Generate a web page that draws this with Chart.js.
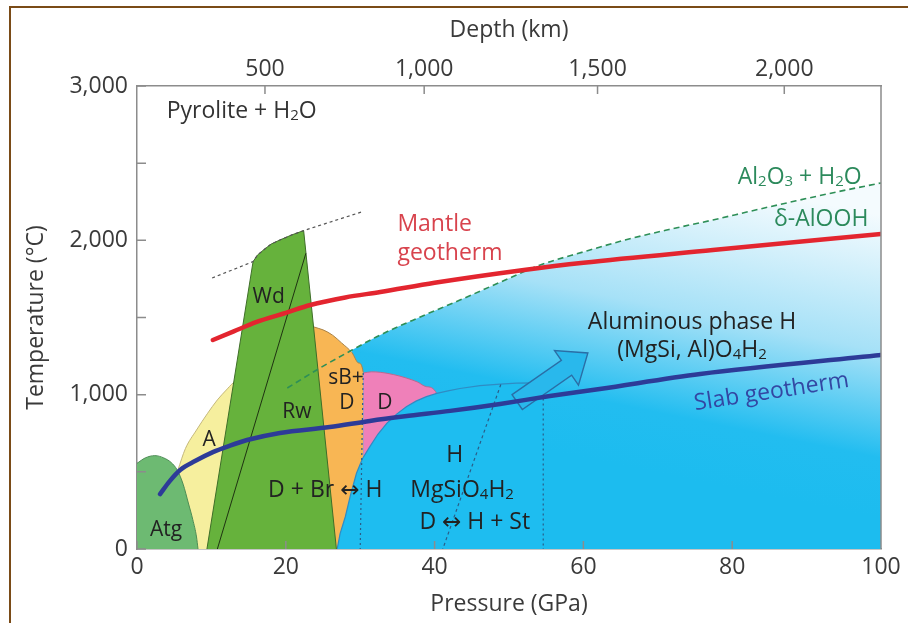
<!DOCTYPE html>
<html>
<head>
<meta charset="utf-8">
<script src="https://cdn.jsdelivr.net/npm/chart.js@4.4.1/dist/chart.umd.min.js"></script>
<style>
html, body { margin: 0; padding: 0; background: #fff; }
#wrap { position: relative; width: 908px; height: 623px; overflow: hidden; }
#frame { position: absolute; left: 9px; top: 6px; right: -4px; bottom: -4px; border-top: 2px solid #7a4b17; border-left: 2px solid #7a4b17; pointer-events: none; }
canvas { display: block; }
</style>
</head>
<body>
<div id="wrap">
  <canvas id="phaseChart" width="908" height="623"></canvas>
  <div id="frame"></div>
</div>
<script>
// Pressure (GPa) on x, temperature (°C) on y

// axes
var xTicks = [0, 20, 40, 60, 80, 100];
var yLabelled = [0, 1000, 2000, 3000];
var yMarks = [0, 500, 1000, 1500, 2000, 2500, 3000];
var depthKm = [500, 1000, 1500, 2000];
var depthAtPressure = [17.2, 38.6, 61.9, 87.0];

// phase fields
var atgP = [0, 1.1, 2.4, 3.6, 4.6, 5.4, 6.2, 6.9, 7.5, 8.0, 8.2];
var atgT = [555, 590, 605, 590, 560, 512, 420, 298, 190, 78, 0];

var phaseAP = [5.5, 6.5, 8.0, 9.5, 10.8, 12.0, 12.9, 14.5];
var phaseAT = [512, 650, 771, 880, 966, 1030, 1075, 1120];

var wdRwP = [9.4, 15.6, 16.2, 17.0, 18.0, 19.2, 20.8, 22.4, 26.8];
var wdRwT = [0, 1862, 1905, 1937, 1975, 2002, 2035, 2063, 0];

var sbdP = [22.0, 23.7, 25.0, 26.3, 27.5, 28.9, 29.8, 30.4, 30.5];
var sbdT = [1480, 1440, 1420, 1385, 1335, 1272, 1205, 1145, 0];

var phaseDP = [30.4, 31.5, 32.7, 34.5, 36.2, 37.7, 38.9, 40.3, 41.5];
var phaseDT = [1140, 1148, 1145, 1130, 1108, 1082, 1052, 1005, 0];

var phaseHP = [26.9, 27.3, 28.0, 28.7, 29.5, 30.3, 31.3, 32.4, 33.6, 34.9, 36.2, 37.5, 38.9, 40.3, 41.8, 43.4, 46.1, 48.8, 51.0, 53.0, 54.6, 54.6];
var phaseHT = [0, 100, 209, 350, 491, 585, 663, 745, 816, 874, 922, 958, 987, 1008, 1025, 1040, 1058, 1068, 1075, 1076, 1073, 0];

// delta-AlOOH / Al2O3 + H2O boundary
var aloohP = [20.2, 24.5, 28.9, 32.7, 38.0, 43.4, 48.8, 54.2, 60.0, 65.6, 71.5, 77.4, 83.0, 88.6, 94.2, 100];
var aloohT = [1043, 1170, 1289, 1387, 1502, 1613, 1728, 1840, 1925, 2002, 2070, 2132, 2195, 2256, 2315, 2372];

// wadsleyite upper boundary (grey dashed)
var wdTopP = [10.1, 15.6, 16.2, 17.0, 18.0, 19.2, 20.8, 22.4, 30.2];
var wdTopT = [1756, 1862, 1905, 1937, 1975, 2002, 2035, 2063, 2184];

// internal boundaries
var rwLineP = [10.8, 22.7];
var rwLineT = [0, 1916];
var dot1P = [30.4, 30.0];
var dot1T = [1140, 0];
var dot2P = [48.9, 41.1];
var dot2T = [1066, 0];
var dot3P = [54.6, 54.6];
var dot3T = [1073, 0];

// geotherms
var mantleP = [10.2, 13, 16, 20, 23.3, 28, 32.7, 40, 52, 60, 77.4, 100];
var mantleT = [1354, 1410, 1470, 1530, 1581, 1630, 1665, 1725, 1808, 1855, 1937, 2041];
var slabP = [3.1, 4.4, 5.8, 7.8, 10.2, 12.5, 14.8, 19.2, 25.9, 31.3, 36.0, 42.1, 48.8, 55.5, 62.2, 75.7, 100];
var slabT = [356, 440, 512, 570, 628, 670, 706, 752, 790, 830, 860, 895, 940, 991, 1037, 1134, 1257];

// subduction arrow (tail, tip)
var arrowTail = [51.1, 952];
var arrowTip = [60.6, 1270];

var FONT = "'Open Sans', 'DejaVu Sans', sans-serif";
var RED = '#e3252f', BLUE = '#2d3b98', GREEN_TXT = '#2c8a5c', DARK = '#222';

// '_' marks the next character as a subscript
var notes = [
    { text: 'Pyrolite + H_2O', p: 4.0, t: 2838, align: 'left', color: '#333', size: 23 },
    { text: 'Mantle', p: 35.0, t: 2100, align: 'left', color: '#d8434d', size: 23 },
    { text: 'geotherm', p: 35.0, t: 1912, align: 'left', color: '#d8434d', size: 23 },
    { text: 'Al_2O_3 + H_2O', p: 97.4, t: 2410, align: 'right', color: GREEN_TXT, size: 23 },
    { text: 'δ-AlOOH', p: 98.3, t: 2138, align: 'right', color: GREEN_TXT, size: 23 },
    { text: 'Aluminous phase H', p: 74.6, t: 1471, align: 'center', color: DARK, size: 23 },
    { text: '(MgSi, Al)O_4H_2', p: 74.6, t: 1289, align: 'center', color: DARK, size: 23 },
    { text: 'Slab geotherm', p: 85.3, t: 1017, align: 'center', color: '#3347a3', size: 23, rot: -8.7 },
    { text: 'Wd', p: 17.7, t: 1633, align: 'center', color: DARK, size: 21 },
    { text: 'Rw', p: 21.5, t: 888, align: 'center', color: DARK, size: 21 },
    { text: 'A', p: 9.7, t: 706, align: 'center', color: DARK, size: 21 },
    { text: 'Atg', p: 3.9, t: 123, align: 'center', color: DARK, size: 21 },
    { text: 'sB+', p: 28.1, t: 1108, align: 'center', color: DARK, size: 21 },
    { text: 'D', p: 28.2, t: 946, align: 'center', color: DARK, size: 21 },
    { text: 'D', p: 33.3, t: 946, align: 'center', color: DARK, size: 21 },
    { text: 'D + Br ↔ H', p: 25.3, t: 382, align: 'center', color: DARK, size: 23 },
    { text: 'H', p: 42.7, t: 609, align: 'center', color: DARK, size: 23 },
    { text: 'MgSiO_4H_2', p: 43.7, t: 382, align: 'center', color: DARK, size: 23 },
    { text: 'D ↔ H + St', p: 45.4, t: 175, align: 'center', color: DARK, size: 23 }
];

function pts(px, py) {
    return px.map(function (p, i) { return { x: p, y: py[i] }; });
}

// hide the closing drop of a filled field
function hideLast(n) {
    return { borderColor: function (c) { return c.p1DataIndex === n - 1 ? 'rgba(0,0,0,0)' : undefined; } };
}

function skyFill(context) {
    var area = context.chart.chartArea;
    if (!area) return '#8fd8f5';
    var w = area.right - area.left, h = area.bottom - area.top;
    var g = context.chart.ctx.createLinearGradient(area.left + 0.76 * w, area.top + 0.2 * h, area.left + 0.68 * w, area.top + 0.83 * h);
    g.addColorStop(0, '#f4fbfe');
    g.addColorStop(0.45, '#a6e1f7');
    g.addColorStop(0.8, '#22bdf0');
    g.addColorStop(1, '#1cbcef');
    return g;
}

function drawRich(ctx, str, x, y, size, align, color) {
    var parts = [];
    for (var i = 0; i < str.length; i++) {
        if (str[i] === '_') { parts.push({ s: str[i + 1], sub: true }); i++; }
        else parts.push({ s: str[i], sub: false });
    }
    var total = 0;
    parts.forEach(function (q) {
        ctx.font = (q.sub ? Math.round(size * 0.66) : size) + 'px ' + FONT;
        q.w = ctx.measureText(q.s).width;
        total += q.w;
    });
    var cx = align === 'left' ? x : align === 'right' ? x - total : x - total / 2;
    ctx.fillStyle = color;
    ctx.textAlign = 'left';
    ctx.textBaseline = 'middle';
    parts.forEach(function (q) {
        ctx.font = (q.sub ? Math.round(size * 0.66) : size) + 'px ' + FONT;
        ctx.fillText(q.s, cx, q.sub ? y + size * 0.22 : y);
        cx += q.w;
    });
}

var decorations = {
    id: 'decorations',
    beforeDatasetDraw: function (chart, args) {
        // arrow sits under the slab geotherm
        if (args.meta.label !== 'Slab geotherm') return;
        var ctx = chart.ctx, sx = chart.scales.x, sy = chart.scales.y;
        var a = sx.getPixelForValue(arrowTail[0]), b = sy.getPixelForValue(arrowTail[1]);
        var c = sx.getPixelForValue(arrowTip[0]), d = sy.getPixelForValue(arrowTip[1]);
        var len = Math.hypot(c - a, d - b);
        ctx.save();
        ctx.translate(a, b);
        ctx.rotate(Math.atan2(d - b, c - a));
        ctx.beginPath();
        ctx.moveTo(0, -9);
        ctx.lineTo(len - 26, -9);
        ctx.lineTo(len - 26, -21);
        ctx.lineTo(len, 0);
        ctx.lineTo(len - 26, 21);
        ctx.lineTo(len - 26, 9);
        ctx.lineTo(0, 9);
        ctx.closePath();
        ctx.fillStyle = '#29b8ec';
        ctx.fill();
        ctx.lineWidth = 1.4;
        ctx.strokeStyle = '#2a6ea6';
        ctx.stroke();
        ctx.restore();
    },
    afterDatasetsDraw: function (chart) {
        var ctx = chart.ctx, sx = chart.scales.x, sy = chart.scales.y, ar = chart.chartArea;
        ctx.save();
        // frame + inside tick marks
        ctx.strokeStyle = '#8c8c8c';
        ctx.lineWidth = 1.5;
        ctx.beginPath();
        ctx.moveTo(ar.right, ar.top);
        ctx.lineTo(ar.right, ar.bottom);
        yMarks.forEach(function (v) {
            var y = sy.getPixelForValue(v);
            ctx.moveTo(ar.left, y); ctx.lineTo(ar.left + 9, y);
        });
        xTicks.forEach(function (v) {
            var x = sx.getPixelForValue(v);
            ctx.moveTo(x, ar.bottom); ctx.lineTo(x, ar.bottom - 8);
        });
        depthAtPressure.forEach(function (v) {
            var x = sx.getPixelForValue(v);
            ctx.moveTo(x, ar.top); ctx.lineTo(x, ar.top + 8);
        });
        ctx.stroke();

        notes.forEach(function (n) {
            var x = sx.getPixelForValue(n.p), y = sy.getPixelForValue(n.t);
            ctx.save();
            ctx.translate(x, y);
            if (n.rot) ctx.rotate(n.rot * Math.PI / 180);
            drawRich(ctx, n.text, 0, 0, n.size, n.align, n.color);
            ctx.restore();
        });
        ctx.restore();
    }
};

var axisFont = { family: FONT, size: 23 };
var axisColor = '#3a3a3a';

var ctx1 = document.getElementById('phaseChart').getContext('2d');
var phaseChart = new Chart(ctx1, {
    type: 'scatter',
    data: {
        datasets: [{
            label: 'Aluminous phase H field',
            data: pts(aloohP, aloohT).slice(2),
            showLine: true, fill: 'origin', backgroundColor: skyFill,
            borderWidth: 0, pointRadius: 0, cubicInterpolationMode: 'monotone', order: 20
        }, {
            label: 'A',
            data: pts(phaseAP, phaseAT),
            showLine: true, fill: 'origin', backgroundColor: '#f6ef9e',
            borderColor: '#c4b77a', borderWidth: 1, pointRadius: 0, cubicInterpolationMode: 'monotone', order: 19
        }, {
            label: 'sB + D',
            data: pts(sbdP, sbdT),
            showLine: true, fill: 'origin', backgroundColor: '#f8b654',
            borderColor: '#a8834a', borderWidth: 1, pointRadius: 0, cubicInterpolationMode: 'monotone',
            segment: hideLast(sbdP.length), order: 18
        }, {
            label: 'D',
            data: pts(phaseDP, phaseDT),
            showLine: true, fill: 'origin', backgroundColor: '#ef80b9',
            borderColor: '#b86a90', borderWidth: 1, pointRadius: 0, cubicInterpolationMode: 'monotone',
            segment: hideLast(phaseDP.length), order: 17
        }, {
            label: 'H',
            data: pts(phaseHP, phaseHT),
            showLine: true, fill: 'origin', backgroundColor: '#1ebdf0',
            borderColor: '#2f8cc4', borderWidth: 1.2, pointRadius: 0, tension: 0,
            segment: hideLast(phaseHP.length), order: 16
        }, {
            label: 'Wd / Rw',
            data: pts(wdRwP, wdRwT),
            showLine: true, fill: 'origin', backgroundColor: '#66b23c',
            borderColor: '#3e6e28', borderWidth: 1, pointRadius: 0, tension: 0, order: 15
        }, {
            label: 'Atg',
            data: pts(atgP, atgT),
            showLine: true, fill: 'origin', backgroundColor: '#6dba72',
            borderColor: '#4d8c55', borderWidth: 1, pointRadius: 0, cubicInterpolationMode: 'monotone', order: 14
        }, {
            label: 'dotted 1', data: pts(dot1P, dot1T), showLine: true, borderColor: '#2b5d88',
            borderWidth: 1.2, borderDash: [2, 3], pointRadius: 0, order: 13
        }, {
            label: 'dotted 2', data: pts(dot2P, dot2T), showLine: true, borderColor: '#2b5d88',
            borderWidth: 1.2, borderDash: [3, 3], pointRadius: 0, order: 13
        }, {
            label: 'dotted 3', data: pts(dot3P, dot3T), showLine: true, borderColor: '#2b5d88',
            borderWidth: 1.2, borderDash: [2, 3], pointRadius: 0, order: 13
        }, {
            label: 'Wd-Rw', data: pts(rwLineP, rwLineT), showLine: true, borderColor: '#1f3312',
            borderWidth: 1, pointRadius: 0, order: 12
        }, {
            label: 'Wd top', data: pts(wdTopP, wdTopT), showLine: true, borderColor: '#555',
            borderWidth: 1.2, borderDash: [3, 3], pointRadius: 0, tension: 0, order: 11
        }, {
            label: 'AlOOH boundary', data: pts(aloohP, aloohT), showLine: true, borderColor: '#2e8f57',
            borderWidth: 1.6, borderDash: [6, 4], pointRadius: 0, cubicInterpolationMode: 'monotone', order: 10
        }, {
            label: 'Mantle geotherm', data: pts(mantleP, mantleT), showLine: true, borderColor: RED,
            borderWidth: 4.5, borderCapStyle: 'round', pointRadius: 0, cubicInterpolationMode: 'monotone', order: 9
        }, {
            label: 'Slab geotherm', data: pts(slabP, slabT), showLine: true, borderColor: BLUE,
            borderWidth: 4.5, borderCapStyle: 'round', pointRadius: 0, cubicInterpolationMode: 'monotone', order: 8
        }]
    },
    options: {
        responsive: false,
        animation: false,
        devicePixelRatio: 1,
        layout: { padding: { left: 0, right: 27, top: 0, bottom: 0 } },
        plugins: { legend: { display: false }, tooltip: { enabled: false } },
        events: [],
        scales: {
            x: {
                type: 'linear', position: 'bottom', min: 0, max: 100,
                afterBuildTicks: function (s) { s.ticks = xTicks.map(function (v) { return { value: v }; }); },
                afterFit: function (s) { s.height = 74; },
                ticks: { font: axisFont, color: axisColor, padding: 5, maxRotation: 0, autoSkip: false },
                grid: { display: false, drawTicks: false },
                border: { display: true, color: '#8c8c8c', width: 1.5 },
                title: { display: true, text: 'Pressure (GPa)', font: axisFont, color: axisColor, padding: { top: 0, bottom: 5 } }
            },
            x2: {
                type: 'linear', position: 'top', min: 0, max: 100,
                afterBuildTicks: function (s) { s.ticks = depthAtPressure.map(function (v) { return { value: v }; }); },
                afterFit: function (s) { s.height = 86; },
                ticks: {
                    font: axisFont, color: axisColor, padding: 3, maxRotation: 0, autoSkip: false,
                    callback: function (v, i) { return depthKm[i].toLocaleString('en-US'); }
                },
                grid: { display: false, drawTicks: false },
                border: { display: true, color: '#8c8c8c', width: 1.5 },
                title: { display: true, text: 'Depth (km)', font: axisFont, color: axisColor, padding: { top: 17, bottom: 0 } }
            },
            y: {
                type: 'linear', position: 'left', min: 0, max: 3000,
                afterBuildTicks: function (s) { s.ticks = yMarks.map(function (v) { return { value: v }; }); },
                afterFit: function (s) { s.width = 137; },
                ticks: {
                    font: axisFont, color: axisColor, padding: 9,
                    callback: function (v) { return yLabelled.indexOf(v) >= 0 ? v.toLocaleString('en-US') : ''; }
                },
                grid: { display: false, drawTicks: false },
                border: { display: true, color: '#8c8c8c', width: 1.5 },
                title: { display: true, text: 'Temperature (°C)', font: axisFont, color: axisColor, padding: { top: 23, bottom: 0 } }
            }
        }
    },
    plugins: [decorations]
});
</script>
</body>
</html>
